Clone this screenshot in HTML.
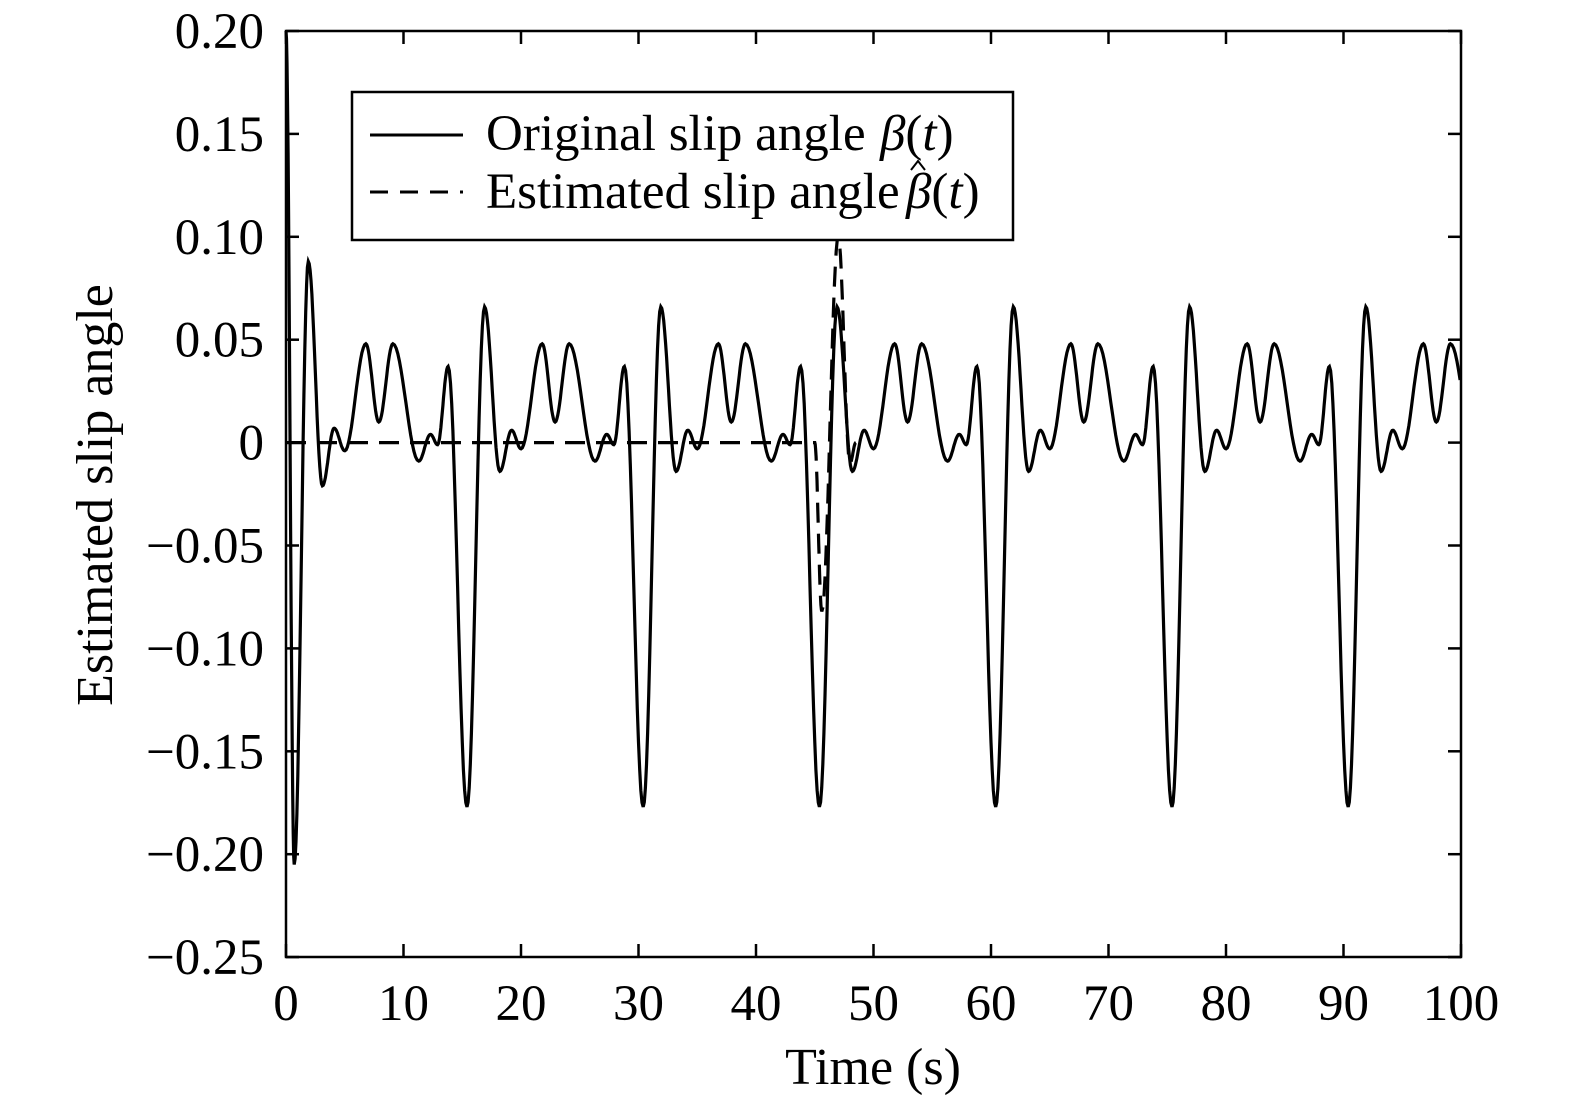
<!DOCTYPE html>
<html><head><meta charset="utf-8"><style>
html,body{margin:0;padding:0;background:#fff;overflow:hidden;}
svg{display:block;}
text{font-family:"Liberation Serif",serif;fill:#000;}
</style></head><body>
<svg id="s" width="1575" height="1102" viewBox="0 0 1575 1102" xmlns="http://www.w3.org/2000/svg">
<g id="ticks" stroke="#000" stroke-width="2.5"></g>
<path id="dash" fill="none" stroke="#000" stroke-width="3.2" stroke-dasharray="20,11"/>
<path id="sol" fill="none" stroke="#000" stroke-width="3.2"/>
<rect x="286" y="31" width="1175" height="926" fill="none" stroke="#000" stroke-width="2.5"/>
<g id="labels" font-size="51"></g>
<text x="873" y="1084" font-size="52" text-anchor="middle">Time (s)</text>
<text transform="translate(112,495) rotate(-90)" font-size="52" text-anchor="middle">Estimated slip angle</text>
<rect x="352" y="92" width="661" height="148" fill="#fff" stroke="#000" stroke-width="2.5"/>
<line x1="370" y1="135" x2="463" y2="135" stroke="#000" stroke-width="3"/>
<line x1="370" y1="192" x2="463" y2="192" stroke="#000" stroke-width="3" stroke-dasharray="18,12"/>
<text x="486" y="150" font-size="51">Original slip angle</text>
<text x="880" y="150" font-size="51"><tspan font-style="italic">β</tspan>(<tspan font-style="italic">t</tspan>)</text>
<text x="486" y="208" font-size="51">Estimated slip angle</text>
<text x="906" y="208" font-size="51"><tspan font-style="italic">β</tspan>(<tspan font-style="italic">t</tspan>)</text>
<polyline points="911,170 918,161 925,170" fill="none" stroke="#000" stroke-width="2"/>
</svg>
<script>
var X=function(t){return 286+11.75*t;}, Y=function(v){return 442.6-v*2058;};
var pts=[[0,0.2],[0.7,-0.205],[1.9,0.088],[3.1,-0.021],[4.1,0.007],[5.0,-0.004]];
var per=[[6.8,0.048],[7.9,0.01],[9.1,0.048],[11.3,-0.009],[12.3,0.004],[12.9,-0.001],[13.8,0.037],[15.4,-0.177],[16.9,0.066],[18.2,-0.014],[19.2,0.006],[20.0,-0.003]];
for(var k=0;k<7;k++){per.forEach(function(p){pts.push([p[0]+15*k,p[1]]);});}
function path(P,tmax){var d="M"+X(P[0][0]).toFixed(1)+","+Y(P[0][1]).toFixed(1);
for(var i=0;i<P.length-1;i++){var a=P[i],b=P[i+1];for(var j=1;j<=16;j++){var f=j/16,t=a[0]+(b[0]-a[0])*f;if(t>tmax)return d;var w=(1-Math.cos(Math.PI*f))/2;var v=a[1]+(b[1]-a[1])*w;d+="L"+X(t).toFixed(1)+","+Y(v).toFixed(1);}}return d;}
document.getElementById("sol").setAttribute("d",path(pts,100));
var dp=[[0,0],[45.0,0],[45.6,-0.082],[47.0,0.1],[48.0,-0.01],[48.5,0]];
document.getElementById("dash").setAttribute("d",path(dp,48.5));
var g=document.getElementById("ticks"),L=document.getElementById("labels"),h="",l="";
for(var i=0;i<=10;i++){var x=X(i*10);h+='<line x1="'+x+'" y1="957" x2="'+x+'" y2="944"/><line x1="'+x+'" y1="31" x2="'+x+'" y2="44"/>';l+='<text x="'+x+'" y="1020" text-anchor="middle">'+(i*10)+'</text>';}
var yl=["0.20","0.15","0.10","0.05","0","\u22120.05","\u22120.10","\u22120.15","\u22120.20","\u22120.25"];
for(var i=0;i<10;i++){var v=0.2-0.05*i,y=Y(v);h+='<line x1="286" y1="'+y+'" x2="299" y2="'+y+'"/><line x1="1461" y1="'+y+'" x2="1448" y2="'+y+'"/>';l+='<text x="264" y="'+(y+17)+'" text-anchor="end">'+yl[i]+'</text>';}
g.innerHTML=h;L.innerHTML=l;
</script>
</body></html>
